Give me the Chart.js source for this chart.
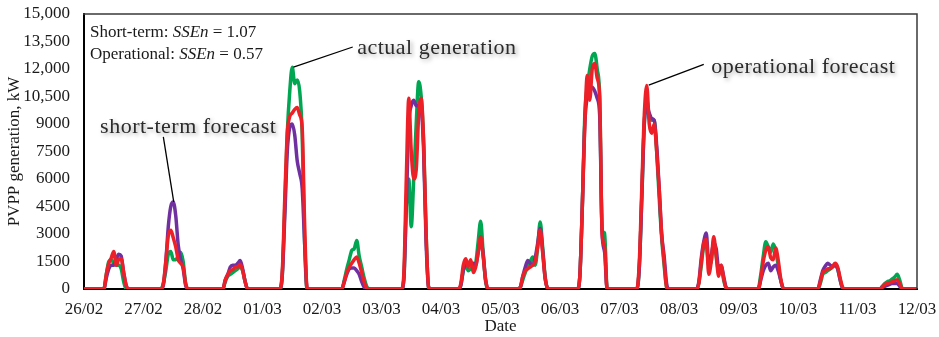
<!DOCTYPE html>
<html><head><meta charset="utf-8">
<script src="https://cdn.jsdelivr.net/npm/chart.js@4.4.1/dist/chart.umd.min.js"></script>
<style>html,body{margin:0;padding:0;background:#fff;} #c{display:block;}</style>
</head><body>
<canvas id="c" width="939" height="337"></canvas>
<script>
// Tick labels
const dateLabels = ['26/02','27/02','28/02','01/03','02/03','03/03','04/03','05/03','06/03','07/03','08/03','09/03','10/03','11/03','12/03'];
const yTickLabels = ['0','1500','3000','4500','6000','7500','9000','10,500','12,000','13,500','15,000'];

// Hourly PVPP generation, kW (one row per day, 00:00..23:00, plus final 00:00 of 12/03)
const actualGeneration = [
0,0,0,0,0,0,0,0,0,800,1500,1600,1400,1300,1300,1100,400,0,0,0,0,0,0,0,
0,0,0,0,0,0,0,0,300,1000,1900,2050,1600,1600,1800,2000,1500,300,0,0,0,0,0,0,
0,0,0,0,0,0,0,0,0,400,700,800,900,1000,1100,1200,1000,400,0,0,0,0,0,0,
0,0,0,0,0,0,0,0,800,4500,8500,10800,12100,11200,11400,10800,8500,2500,0,0,0,0,0,0,
0,0,0,0,0,0,0,0,0,500,1100,1600,2100,2200,2650,1800,1200,600,150,0,0,0,0,0,
0,0,0,0,0,0,0,0,0,500,4500,6000,3400,6000,9000,11300,10500,8000,3000,100,0,0,0,0,
0,0,0,0,0,0,0,0,200,1000,1300,1000,1100,1200,1400,2600,3700,2000,400,0,0,0,0,0,
0,0,0,0,0,0,0,0,100,500,900,1200,1500,1750,1300,2300,3650,2300,700,50,0,0,0,0,
0,0,0,0,0,0,0,0,700,4500,9500,11000,12000,12700,12850,12000,10500,3200,3050,0,0,0,0,0,
0,0,0,0,0,0,0,0,1200,5000,9000,10300,9300,9200,9200,7500,5000,2800,1300,100,0,0,0,0,
0,0,0,0,0,0,0,0,300,1300,2300,2400,1300,1500,2600,1800,1000,1200,500,50,0,0,0,0,
0,0,0,0,0,0,0,0,50,800,1800,2580,2300,2000,2450,2100,1300,500,50,0,0,0,0,0,
0,0,0,0,0,0,0,0,0,300,800,900,1000,1100,1200,1300,1100,500,50,0,0,0,0,0,
0,0,0,0,0,0,0,0,0,0,150,300,400,450,550,650,800,500,50,0,0,0,0,0,
0];
const shortTermForecast = [
0,0,0,0,0,0,0,0,0,600,1100,1300,1300,1600,1900,1800,900,200,0,0,0,0,0,0,
0,0,0,0,0,0,0,0,200,1500,3400,4500,4750,4000,2400,1600,1100,200,0,0,0,0,0,0,
0,0,0,0,0,0,0,0,0,500,800,1200,1300,1300,1400,1550,1100,400,0,0,0,0,0,0,
0,0,0,0,0,0,0,0,800,4000,7500,8800,9000,8400,7000,6300,5500,2500,0,0,0,0,0,0,
0,0,0,0,0,0,0,0,0,400,800,1100,1150,1150,1000,800,400,100,0,0,0,0,0,0,
0,0,0,0,0,0,0,0,0,500,4500,9000,10000,10300,10000,10000,9800,7500,2500,100,0,0,0,0,
0,0,0,0,0,0,0,0,200,1000,1300,1300,1400,1400,1300,2000,2700,1900,500,0,0,0,0,0,
0,0,0,0,0,0,0,0,100,700,1200,1550,1400,1300,1700,2500,3300,2100,600,50,0,0,0,0,
0,0,0,0,0,0,0,0,700,4500,9000,10500,11000,11000,10800,10400,9500,3000,2000,0,0,0,0,0,
0,0,0,0,0,0,0,0,1200,5000,9000,10000,9600,9300,9200,7800,5500,3000,1800,300,0,0,0,0,
0,0,0,0,0,0,0,0,400,1700,2600,3050,1400,1800,2500,2200,1100,1300,700,100,0,0,0,0,
0,0,0,0,0,0,0,0,0,500,1000,1300,1400,1000,1200,1300,1000,500,50,0,0,0,0,0,
0,0,0,0,0,0,0,0,0,500,1000,1250,1400,1300,1250,1300,1100,500,50,0,0,0,0,0,
0,0,0,0,0,0,0,0,0,0,100,150,200,250,300,300,300,150,0,0,0,0,0,0,
0];
const operationalForecast = [
0,0,0,0,0,0,0,0,0,800,1400,1700,2050,1300,1600,1650,900,200,0,0,0,0,0,0,
0,0,0,0,0,0,0,0,300,1500,2900,3200,2800,2300,1600,1400,1200,300,0,0,0,0,0,0,
0,0,0,0,0,0,0,0,0,500,800,1000,1050,1200,1200,1350,1000,400,0,0,0,0,0,0,
0,0,0,0,0,0,0,0,1000,5000,8500,9400,9600,9800,9900,9500,8800,3500,0,0,0,0,0,0,
0,0,0,0,0,0,0,0,0,400,900,1200,1400,1600,1750,1400,900,400,50,0,0,0,0,0,
0,0,0,0,0,0,0,0,0,800,6000,10400,7500,6000,6500,9500,10400,8000,3000,100,0,0,0,0,
0,0,0,0,0,0,0,0,300,1300,1650,1200,1600,900,1200,2000,2850,1800,500,0,0,0,0,0,
0,0,0,0,0,0,0,0,100,700,1000,1100,1200,1300,1500,2300,3200,2000,600,50,0,0,0,0,
0,0,0,0,0,0,0,0,700,4500,9000,11650,10300,12000,12300,11500,10500,3000,2300,0,0,0,0,0,
0,0,0,0,0,0,0,0,1500,5500,9500,11100,9000,8500,9000,7500,5500,3000,1500,100,0,0,0,0,
0,0,0,0,0,0,0,0,300,1500,2500,2700,800,1500,2850,1800,700,1300,600,50,0,0,0,0,
0,0,0,0,0,0,0,0,0,600,1500,2100,2300,1700,1600,2230,1600,600,50,0,0,0,0,0,
0,0,0,0,0,0,0,0,0,400,900,1000,1100,1100,1250,1400,1200,600,100,0,0,0,0,0,
0,0,0,0,0,0,0,0,0,0,100,250,300,350,400,450,500,300,20,0,0,0,0,0,
0];

// Annotation anchors in data units (hour index, kW)
const annotationLabels = [
  {text:'actual generation',    tx:110.2, ty:13150, x1:108.4, y1:13200, x2:84.5,  y2:12100},
  {text:'short-term forecast',  tx:6.5,   ty:8830,  x1:32.0,  y1:8300,  x2:36.2,  y2:4750},
  {text:'operational forecast', tx:253.0, ty:12100, x1:250.0, y1:12250, x2:227.8, y2:11120}
];
const scoreLines = [
  ['Short-term: ', 'SSEn', ' = 1.07'],
  ['Operational: ', 'SSEn', ' = 0.57']
];

const SERIF = "'Liberation Serif', 'Times New Roman', serif";
const pts = arr => arr.map((v, i) => ({x: i, y: v}));

const decor = {
  id: 'decor',
  afterDatasetsDraw(chart) {
    const ctx = chart.ctx;
    const {left, top, right, bottom} = chart.chartArea;
    const xs = chart.scales.x, ys = chart.scales.y;
    ctx.save();
    // frame top & right
    ctx.strokeStyle = '#3a3a3a';
    ctx.lineWidth = 1.5;
    ctx.beginPath();
    ctx.moveTo(left - 1, top);
    ctx.lineTo(right, top);
    ctx.lineTo(right, bottom);
    ctx.stroke();
    // score text
    ctx.fillStyle = '#1a1a1a';
    ctx.textBaseline = 'alphabetic';
    scoreLines.forEach((parts, i) => {
      let x = left + 6;
      const y = top + 23 + i * 22;
      parts.forEach((p, j) => {
        ctx.font = (j === 1 ? 'italic ' : '') + '17px ' + SERIF;
        ctx.fillText(p, x, y);
        x += ctx.measureText(p).width;
      });
    });
    // labels with leader lines
    annotationLabels.forEach(a => {
      ctx.strokeStyle = '#000';
      ctx.lineWidth = 1.3;
      ctx.beginPath();
      ctx.moveTo(xs.getPixelForValue(a.x1), ys.getPixelForValue(a.y1));
      ctx.lineTo(xs.getPixelForValue(a.x2), ys.getPixelForValue(a.y2));
      ctx.stroke();
      ctx.save();
      ctx.font = '22px ' + SERIF;
      try { ctx.letterSpacing = '0.5px'; } catch (e) {}
      ctx.shadowColor = 'rgba(0,0,0,0.35)';
      ctx.shadowBlur = 4;
      ctx.shadowOffsetX = 2;
      ctx.shadowOffsetY = 2;
      ctx.fillStyle = '#2b2b2b';
      ctx.textBaseline = 'middle';
      ctx.fillText(a.text, xs.getPixelForValue(a.tx), ys.getPixelForValue(a.ty));
      ctx.restore();
    });
    ctx.restore();
  }
};

new Chart(document.getElementById('c'), {
  type: 'line',
  data: {
    datasets: [
      {label: 'operational forecast', data: pts(operationalForecast), borderColor: '#EE2027', order: 0},
      {label: 'short-term forecast', data: pts(shortTermForecast), borderColor: '#7030A0', order: 1},
      {label: 'actual generation', data: pts(actualGeneration), borderColor: '#00A651', order: 2}
    ]
  },
  options: {
    responsive: false,
    devicePixelRatio: 1,
    animation: false,
    layout: {padding: {left: 0, top: 14, right: 22, bottom: 0}},
    elements: {
      point: {radius: 0},
      line: {borderWidth: 3.5, cubicInterpolationMode: 'monotone', fill: false, borderJoinStyle: 'round', borderCapStyle: 'round'}
    },
    plugins: {legend: {display: false}, tooltip: {enabled: false}},
    scales: {
      x: {
        type: 'linear', min: 0, max: 336,
        ticks: {stepSize: 24, autoSkip: false, maxRotation: 0, padding: 10, color: '#1a1a1a',
          font: {family: SERIF, size: 17},
          callback: v => dateLabels[Math.round(v / 24)]},
        grid: {display: false, drawTicks: false},
        border: {display: true, color: '#000', width: 2},
        title: {display: true, text: 'Date', color: '#1a1a1a', font: {family: SERIF, size: 17}, padding: {top: 0, bottom: 0}},
        afterFit: s => { s.height = 48; s.paddingLeft = 0; s.paddingRight = 0; }
      },
      y: {
        min: 0, max: 15000,
        ticks: {stepSize: 1500, padding: 14, color: '#1a1a1a',
          font: {family: SERIF, size: 17},
          callback: (v, i) => yTickLabels[i]},
        grid: {display: false, drawTicks: false},
        border: {display: true, color: '#000', width: 2},
        title: {display: true, text: 'PVPP generation, kW', color: '#1a1a1a', font: {family: SERIF, size: 17}, padding: {top: 4, bottom: 0}},
        afterFit: s => { s.width = 84; s.paddingTop = 0; s.paddingBottom = 0; }
      }
    }
  },
  plugins: [decor]
});
</script>
</body></html>
